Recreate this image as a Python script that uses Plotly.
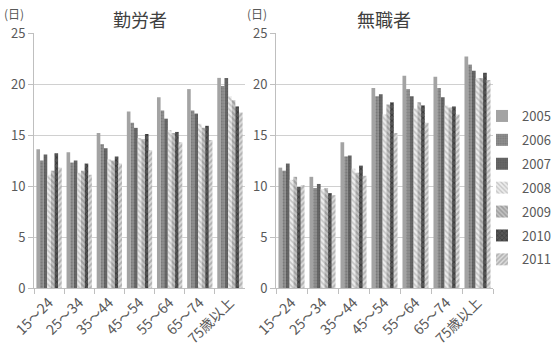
import plotly.graph_objects as go

categories = ["15～24", "25～34", "35～44", "45～54", "55～64", "65～74", "75歳以上"]
years = ["2005", "2006", "2007", "2008", "2009", "2010", "2011"]

# 勤労者 (workers) - days, by year
workers = {
    "2005": [13.6, 13.3, 15.2, 17.3, 18.7, 19.5, 20.6],
    "2006": [12.5, 12.3, 14.1, 16.2, 17.4, 17.4, 19.8],
    "2007": [13.1, 12.5, 13.7, 15.7, 16.6, 17.1, 20.6],
    "2008": [11.1, 11.3, 12.6, 14.7, 15.5, 16.1, 18.8],
    "2009": [11.5, 11.5, 12.5, 14.6, 15.2, 15.7, 18.4],
    "2010": [13.2, 12.2, 12.9, 15.1, 15.3, 15.9, 17.8],
    "2011": [11.8, 11.1, 12.2, 13.5, 14.3, 14.5, 17.2],
}
# 無職者 (unemployed) - days, by year
nonworkers = {
    "2005": [11.8, 10.9, 14.3, 19.6, 20.8, 20.7, 22.7],
    "2006": [11.5, 9.8, 12.9, 18.8, 19.5, 19.6, 21.9],
    "2007": [12.2, 10.2, 13.0, 19.0, 18.8, 18.7, 21.3],
    "2008": [10.6, 9.7, 11.7, 17.0, 17.6, 17.9, 20.6],
    "2009": [10.9, 9.8, 11.3, 18.0, 18.2, 17.7, 20.6],
    "2010": [9.9, 9.3, 12.0, 18.2, 17.9, 17.8, 21.1],
    "2011": [10.1, 9.1, 11.0, 15.2, 16.2, 17.0, 20.4],
}

styles = {
    "2005": dict(color="#a3a3a3"),
    "2006": dict(color="#8a8a8a", pattern=dict(shape=".", fgcolor="#666666", bgcolor="#8f8f8f", size=3, solidity=0.4)),
    "2007": dict(color="#626262", pattern=dict(shape=".", fgcolor="#505050", bgcolor="#666666", size=3, solidity=0.3)),
    "2008": dict(color="#c8c8c8", pattern=dict(shape="\\", fgcolor="#9a9a9a", bgcolor="#ececec", size=4, solidity=0.4)),
    "2009": dict(color="#a0a0a0", pattern=dict(shape="\\", fgcolor="#7a7a7a", bgcolor="#c4c4c4", size=4, solidity=0.5)),
    "2010": dict(color="#3a3a3a", pattern=dict(shape="x", fgcolor="#222222", bgcolor="#555555", size=4, solidity=0.4)),
    "2011": dict(color="#b0b0b0", pattern=dict(shape="/", fgcolor="#858585", bgcolor="#dcdcdc", size=4, solidity=0.5)),
}

FONT = "Noto Sans CJK JP"
TXT = "#595959"

fig = go.Figure()
for y in years:
    st = styles[y]
    marker = dict(color=st["color"], line=dict(width=0))
    if "pattern" in st:
        marker["pattern"] = st["pattern"]
    fig.add_trace(go.Bar(x=categories, y=workers[y], name=y, marker=marker,
                         xaxis="x", yaxis="y", legendgroup=y, showlegend=True))
for y in years:
    st = styles[y]
    marker = dict(color=st["color"], line=dict(width=0))
    if "pattern" in st:
        marker["pattern"] = st["pattern"]
    fig.add_trace(go.Bar(x=categories, y=nonworkers[y], name=y, marker=marker,
                         xaxis="x2", yaxis="y2", legendgroup=y, showlegend=False))

W, H = 556, 346
def px_x(a, b):
    return [a / W, b / W]
ydom = [1 - 288 / H, 1 - 33 / H]

xcommon = dict(type="category", tickson="boundaries", ticks="outside", ticklen=5,
               tickcolor="#bfbfbf", showline=True, linecolor="#bfbfbf", showgrid=False,
               tickangle=-45, tickfont=dict(family=FONT, size=14, color=TXT), zeroline=False,
               automargin=False)
ycommon = dict(range=[0, 25], dtick=5, ticks="outside", ticklen=5, tickcolor="#bfbfbf",
               showline=True, linecolor="#bfbfbf", showgrid=True, gridcolor="#d0d0d0",
               tickfont=dict(family=FONT, size=13, color=TXT), zeroline=False,
               automargin=False)

fig.update_layout(
    width=W, height=H, margin=dict(l=0, r=0, t=0, b=0, autoexpand=False),
    paper_bgcolor="white", plot_bgcolor="white",
    barmode="group", bargap=0.16, bargroupgap=0,
    font=dict(family=FONT, color=TXT),
    xaxis=dict(domain=px_x(34, 245), anchor="y", **xcommon),
    yaxis=dict(domain=ydom, anchor="x", **ycommon),
    xaxis2=dict(domain=px_x(276, 493), anchor="y2", **xcommon),
    yaxis2=dict(domain=ydom, anchor="x2", **ycommon),
    legend=dict(x=1.0, y=1 - 101 / H, xanchor="right", yanchor="top",
                font=dict(family=FONT, size=13, color=TXT), tracegroupgap=4,
                itemwidth=30, bgcolor="rgba(0,0,0,0)"),
    annotations=[
        dict(text="勤労者", x=140 / W, y=1 - 19 / H, xref="paper", yref="paper",
             xanchor="center", yanchor="middle",
             showarrow=False, font=dict(family=FONT, size=18, color="#404040")),
        dict(text="無職者", x=384 / W, y=1 - 19 / H, xref="paper", yref="paper",
             xanchor="center", yanchor="middle",
             showarrow=False, font=dict(family=FONT, size=18, color="#404040")),
        dict(text="(日)", x=14 / W, y=1 - 13 / H, xref="paper", yref="paper",
             xanchor="center", yanchor="middle",
             showarrow=False, font=dict(family=FONT, size=12, color=TXT)),
        dict(text="(日)", x=257 / W, y=1 - 13 / H, xref="paper", yref="paper",
             xanchor="center", yanchor="middle",
             showarrow=False, font=dict(family=FONT, size=12, color=TXT)),
    ],
)

fig.write_html("out.html")
